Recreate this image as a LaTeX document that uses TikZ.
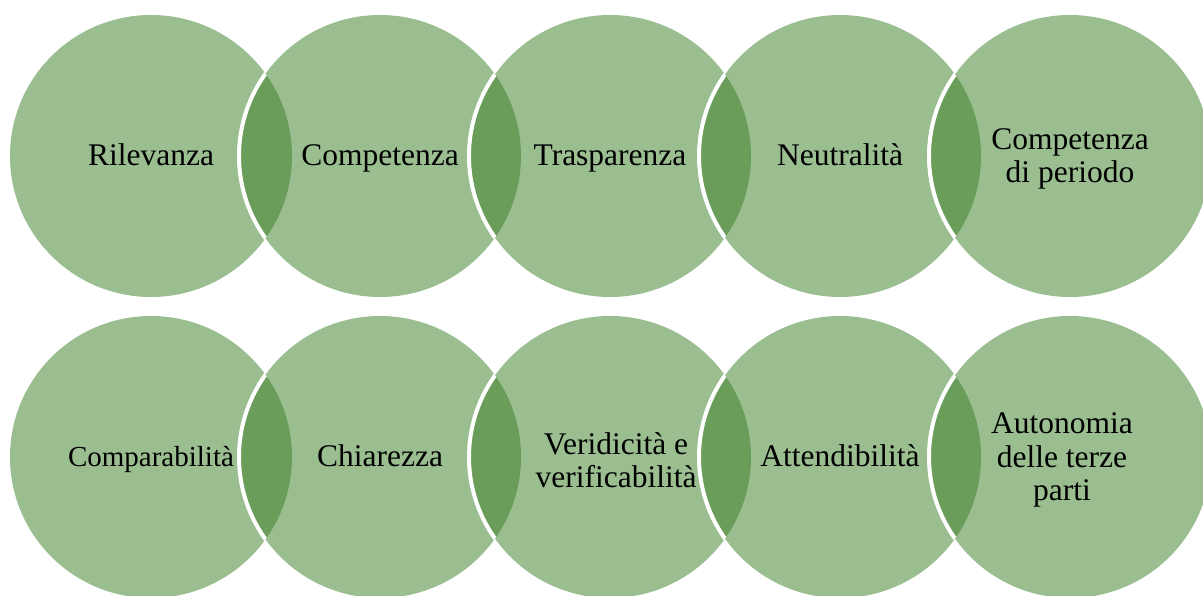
\documentclass[tikz,border=0pt]{standalone}
\usepackage{fontspec}
\setmainfont{Liberation Serif}
\definecolor{petal}{RGB}{155,190,145}
\definecolor{petaldark}{RGB}{106,157,90}
\tikzset{
  petalfont/.style={align=center, inner sep=0pt, font=\fontsize{15.75}{16.75}\selectfont},
  oneline/.style={petalfont, text height=0.68em, text depth=0.22em, yshift=-2.25pt},
  petaltext/.style={petalfont, yshift=-1.5pt},
  rim/.style={draw=white, line width=2pt}
}
\begin{document}
\begin{tikzpicture}[x=0.5pt, y=0.5pt, line join=round, line cap=round]
			\useasboundingbox (0,0) rectangle (1203,595);
			
			% centres of the circles, top row T, bottom row B
			\foreach \i/\x in {1/151, 2/380, 3/610, 4/840, 5/1070}
			\path (\x,439) coordinate (T\i) (\x,138) coordinate (B\i);
			
			\foreach \r in {T, B} {
				\foreach \i in {1,...,5}
				\fill[petal] (\r\i) circle (141);
				\foreach \i [evaluate=\i as \j using int(\i+1)] in {1,...,4} {
					\begin{scope}
						\clip (\r\i) circle (141);
						\fill[petaldark] (\r\j) circle (141);
						\draw[rim] (\r\j) circle (141);
					\end{scope}
				}
			}
			
			\node[oneline] (rilevanza) at (T1) {Rilevanza};
			\node[oneline] (competenza) at (T2) {Competenza};
			\node[oneline] (trasparenza) at (T3) {Trasparenza};
			\node[oneline] (neutralita) at (T4) {Neutralità};
			\node[petaltext] (periodo) at (T5) {Competenza\\di periodo};
			
			\node[oneline, font=\fontsize{14.5}{16}\selectfont] (comparabilita) at (B1) {Comparabilità};
			\node[oneline] (chiarezza) at (B2) {Chiarezza};
			\node[petaltext] (veridicita) at ([xshift=3]B3) {Veridicità e\\verificabilità};
			\node[oneline] (attendibilita) at (B4) {Attendibilità};
			\node[petaltext] (autonomia) at ([xshift=-4]B5) {Autonomia\\delle terze\\parti};
		\end{tikzpicture}
\end{document}
